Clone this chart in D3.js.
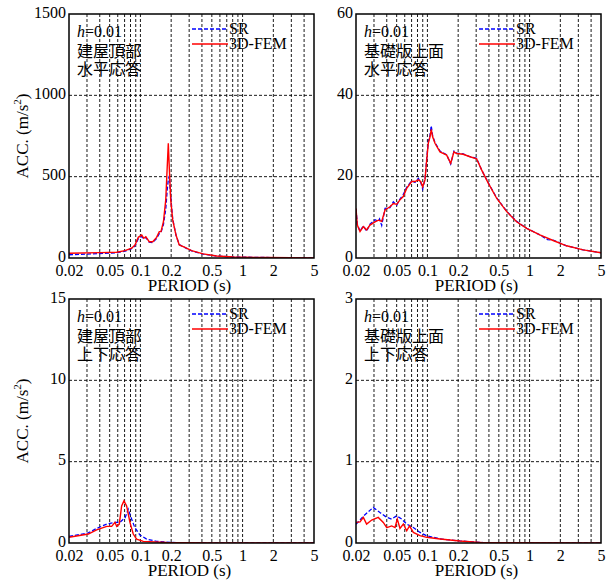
<!DOCTYPE html>
<html>
<head>
<meta charset="utf-8">
<script src="https://cdn.jsdelivr.net/npm/d3@7"></script>
<style>
  body { margin: 0; background: #fff; }
  svg { display: block; }
</style>
</head>
<body>
<div id="chart"></div>
<script>
'use strict';

var SERIF = '"Liberation Serif", "Times New Roman", serif';
var GOTHIC = '"Noto Sans CJK JP", sans-serif';

// x axis (period, log)
var periodTicks = [0.02, 0.05, 0.1, 0.2, 0.5, 1, 2, 5];
var periodTickLabels = ['0.02', '0.05', '0.1', '0.2', '0.5', '1', '2', '5'];
var periodGrid = [0.03, 0.04, 0.05, 0.06, 0.07, 0.08, 0.09, 0.1, 0.2, 0.3, 0.4, 0.5, 0.6, 0.7, 0.8, 0.9, 1, 2, 3, 4];

// roof, horizontal
var roofHorSR = [[0.02, 20], [0.04, 27], [0.0586, 32], [0.0706, 42], [0.082, 57], [0.0885, 75], [0.0953, 118],
  [0.103, 132], [0.108, 118], [0.113, 126], [0.122, 97], [0.132, 95], [0.144, 120], [0.153, 150], [0.159, 158],
  [0.168, 205], [0.177, 300], [0.183, 420], [0.1875, 480], [0.1915, 505], [0.198, 380], [0.207, 240],
  [0.223, 140], [0.24, 82], [0.273, 64], [0.317, 44], [0.412, 24], [0.557, 12], [0.811, 6], [1.72, 3], [5, 1]];
var roofHorFEM = [[0.02, 29], [0.0402, 33], [0.0586, 35], [0.0706, 45], [0.082, 60], [0.0885, 80], [0.0953, 127],
  [0.103, 141], [0.108, 121], [0.113, 131], [0.122, 100], [0.132, 100], [0.144, 127], [0.153, 162], [0.159, 162],
  [0.168, 223], [0.177, 357], [0.183, 561], [0.1875, 705], [0.1915, 561], [0.198, 357], [0.207, 234],
  [0.223, 141], [0.24, 80], [0.273, 66], [0.317, 45], [0.412, 25], [0.557, 12], [0.811, 6], [1.72, 3], [5, 1]];

// base mat, horizontal
var baseHorSR = [[0.02, 12.0], [0.0206, 8.3], [0.0219, 6.6], [0.0236, 7.9], [0.0254, 6.6], [0.0274, 8.3],
  [0.0307, 9.4], [0.0331, 9.0], [0.034, 9.6], [0.0357, 8.0], [0.0385, 12.2], [0.043, 12.4], [0.0464, 13.8],
  [0.05, 13.0], [0.0539, 14.5], [0.058, 15.6], [0.0627, 17.4], [0.0702, 19.0], [0.0756, 18.6], [0.0815, 19.6],
  [0.086, 18.6], [0.0898, 17.0], [0.0947, 19.4], [0.0984, 24.5], [0.102, 28.6], [0.106, 30.2], [0.109, 32.5],
  [0.1125, 30.0], [0.1186, 28.4], [0.1328, 26.3], [0.1543, 25.4], [0.169, 23.1], [0.182, 26.3], [0.193, 25.8],
  [0.224, 25.6], [0.261, 24.9], [0.303, 24.5], [0.34, 21.6], [0.394, 18.5], [0.476, 14.8], [0.597, 11.5],
  [0.747, 9.0], [0.936, 7.3], [1.26, 5.7], [1.5, 4.5], [1.70, 4.4], [2.30, 3.0], [3.35, 2.0], [5, 1.3]];
var baseHorFEM = [[0.02, 12.2], [0.0206, 8.1], [0.0219, 6.5], [0.0236, 7.7], [0.0254, 6.9], [0.0274, 8.1],
  [0.0307, 8.9], [0.0331, 9.3], [0.0357, 9.0], [0.0385, 11.8], [0.043, 12.6], [0.0464, 13.4], [0.05, 13.2],
  [0.0539, 14.3], [0.058, 15.1], [0.0627, 17.1], [0.0702, 18.8], [0.0756, 18.8], [0.0815, 19.2], [0.086, 18.8],
  [0.0898, 17.5], [0.0947, 19.2], [0.0984, 24.1], [0.102, 28.2], [0.106, 29.8], [0.109, 31.6], [0.1125, 29.8],
  [0.1186, 28.2], [0.1328, 26.1], [0.1543, 25.3], [0.169, 23.3], [0.182, 26.1], [0.193, 25.7], [0.224, 25.5],
  [0.261, 24.9], [0.303, 24.4], [0.34, 21.6], [0.394, 18.4], [0.476, 14.7], [0.597, 11.4], [0.747, 8.9],
  [0.936, 7.3], [1.26, 5.7], [1.70, 4.3], [2.30, 3.0], [3.35, 2.0], [5, 1.3]];

// roof, vertical
var roofVerSR = [[0.02, 0.4], [0.0309, 0.62], [0.0373, 0.9], [0.0468, 1.16], [0.0564, 1.27], [0.063, 1.27],
  [0.071, 1.57], [0.076, 2.08], [0.082, 1.47], [0.088, 0.96], [0.099, 0.49], [0.115, 0.24], [0.144, 0.1],
  [0.2, 0.03], [0.5, 0.01], [5, 0]];
var roofVerFEM = [[0.02, 0.35], [0.0309, 0.55], [0.0373, 0.81], [0.0468, 1.02], [0.0523, 1.02], [0.0564, 1.27],
  [0.0586, 1.02], [0.0621, 1.16], [0.0655, 2.28], [0.069, 2.59], [0.0733, 2.28], [0.079, 1.27], [0.0851, 0.55],
  [0.0918, 0.24], [0.1067, 0.1], [0.18, 0.03], [0.5, 0.01], [5, 0]];

// base mat, vertical
var baseVerSR = [[0.02, 0.23], [0.0236, 0.33], [0.0295, 0.437], [0.0343, 0.375], [0.04, 0.315], [0.0447, 0.294],
  [0.05, 0.334], [0.056, 0.294], [0.0627, 0.233], [0.0728, 0.19], [0.0845, 0.13], [0.0984, 0.09], [0.133, 0.05],
  [0.208, 0.025], [0.35, 0.005], [5, 0]];
var baseVerFEM = [[0.02, 0.253], [0.0219, 0.26], [0.0236, 0.315], [0.0254, 0.233], [0.0285, 0.282], [0.033, 0.315],
  [0.037, 0.253], [0.04, 0.19], [0.0447, 0.21], [0.0482, 0.19], [0.0507, 0.294], [0.0539, 0.18], [0.0581, 0.233],
  [0.0627, 0.15], [0.0668, 0.21], [0.0728, 0.13], [0.0845, 0.09], [0.0984, 0.07], [0.133, 0.05], [0.208, 0.025],
  [0.35, 0.005], [5, 0]];

var yTicksRoofHor = [0, 500, 1000, 1500];
var yTicksBaseHor = [0, 20, 40, 60];
var yTicksRoofVer = [0, 5, 10, 15];
var yTicksBaseVer = [0, 1, 2, 3];

var panels = [
  {left: 69, top: 14, yTicks: yTicksRoofHor, sr: roofHorSR, fem: roofHorFEM, note: ['建屋頂部', '水平応答'], ylabel: true},
  {left: 356, top: 14, yTicks: yTicksBaseHor, sr: baseHorSR, fem: baseHorFEM, note: ['基礎版上面', '水平応答'], ylabel: false},
  {left: 69, top: 299, yTicks: yTicksRoofVer, sr: roofVerSR, fem: roofVerFEM, note: ['建屋頂部', '上下応答'], ylabel: true},
  {left: 356, top: 299, yTicks: yTicksBaseVer, sr: baseVerSR, fem: baseVerFEM, note: ['基礎版上面', '上下応答'], ylabel: false}
];

var W = 613, H = 587, pw = 245, ph = 244;

var svg = d3.select('#chart').append('svg')
  .attr('width', W)
  .attr('height', H);

function serifText(sel, size) {
  return sel.style('font-family', SERIF).style('font-size', size + 'px').style('fill', '#000');
}

panels.forEach(function (p, idx) {
  var x = d3.scaleLog().domain([0.02, 5]).range([0, pw]);
  var y = d3.scaleLinear().domain([0, p.yTicks[p.yTicks.length - 1]]).range([ph, 0]);
  var g = svg.append('g').attr('transform', 'translate(' + p.left + ',' + p.top + ')');

  g.append('clipPath').attr('id', 'clip' + idx)
    .append('rect').attr('width', pw).attr('height', ph);

  // grid
  g.selectAll('.vgrid').data(periodGrid).enter().append('line')
    .attr('x1', function (d) { return x(d); })
    .attr('x2', function (d) { return x(d); })
    .attr('y1', 0).attr('y2', ph)
    .attr('stroke', '#000').attr('stroke-width', 0.9)
    .attr('stroke-dasharray', '3,2');
  g.selectAll('.hgrid').data(p.yTicks.slice(1, -1)).enter().append('line')
    .attr('x1', 0).attr('x2', pw)
    .attr('y1', function (d) { return y(d); })
    .attr('y2', function (d) { return y(d); })
    .attr('stroke', '#000').attr('stroke-width', 0.9)
    .attr('stroke-dasharray', '3,2');

  // axes labels
  var xAxis = d3.axisBottom(x).tickValues(periodTicks)
    .tickFormat(function (d, i) { return periodTickLabels[i]; })
    .tickSize(0).tickPadding(7);
  var xa = g.append('g').attr('transform', 'translate(0,' + ph + ')').call(xAxis);
  xa.select('.domain').remove();
  serifText(xa.selectAll('text'), 16);

  var yAxis = d3.axisLeft(y).tickValues(p.yTicks)
    .tickFormat(function (d) { return String(d); })
    .tickSize(0).tickPadding(3);
  var ya = g.append('g').call(yAxis);
  ya.select('.domain').remove();
  serifText(ya.selectAll('text'), 16).attr('dy', '0.2em');

  serifText(g.append('text'), 17)
    .attr('x', pw / 2 - 2).attr('y', ph + 33)
    .attr('text-anchor', 'middle')
    .text('PERIOD (s)');

  if (p.ylabel) {
    var yl = serifText(g.append('text'), 17)
      .attr('transform', 'translate(-41,' + (ph / 2) + ') rotate(-90)')
      .attr('text-anchor', 'middle');
    yl.append('tspan').text('ACC. (m/s');
    yl.append('tspan').style('font-size', '11px').attr('dy', '-7').text('2');
    yl.append('tspan').attr('dy', '7').text(')');
  }

  // curves
  var line = d3.line()
    .x(function (d) { return x(d[0]); })
    .y(function (d) { return y(d[1]); });
  var curves = g.append('g').attr('clip-path', 'url(#clip' + idx + ')');
  curves.append('path').datum(p.sr)
    .attr('d', line).attr('fill', 'none')
    .attr('stroke', '#0000ff').attr('stroke-width', 1.3)
    .attr('stroke-dasharray', '4,2');
  curves.append('path').datum(p.fem)
    .attr('d', line).attr('fill', 'none')
    .attr('stroke', '#ff0000').attr('stroke-width', 1.4);

  // frame
  g.append('rect').attr('width', pw).attr('height', ph)
    .attr('fill', 'none').attr('stroke', '#000').attr('stroke-width', 1.5);

  // annotation
  var hn = serifText(g.append('text'), 16).attr('x', 8).attr('y', 23);
  hn.append('tspan').style('font-style', 'italic').text('h');
  hn.append('tspan').text('=0.01');
  p.note.forEach(function (t, i) {
    g.append('text')
      .style('font-family', GOTHIC).style('font-size', '16px').style('fill', '#000')
      .attr('x', 8).attr('y', 43 + i * 18).text(t);
  });

  // legend
  var leg = g.append('g').attr('transform', 'translate(123,15)');
  leg.append('line').attr('x1', 0).attr('x2', 36).attr('y1', 0).attr('y2', 0)
    .attr('stroke', '#0000ff').attr('stroke-width', 1.3).attr('stroke-dasharray', '4,2');
  serifText(leg.append('text'), 16).attr('x', 37).attr('y', 5).text('SR');
  leg.append('line').attr('x1', 0).attr('x2', 36).attr('y1', 15).attr('y2', 15)
    .attr('stroke', '#ff0000').attr('stroke-width', 1.4);
  serifText(leg.append('text'), 16).attr('x', 37).attr('y', 20).text('3D-FEM');
});
</script>
</body>
</html>
